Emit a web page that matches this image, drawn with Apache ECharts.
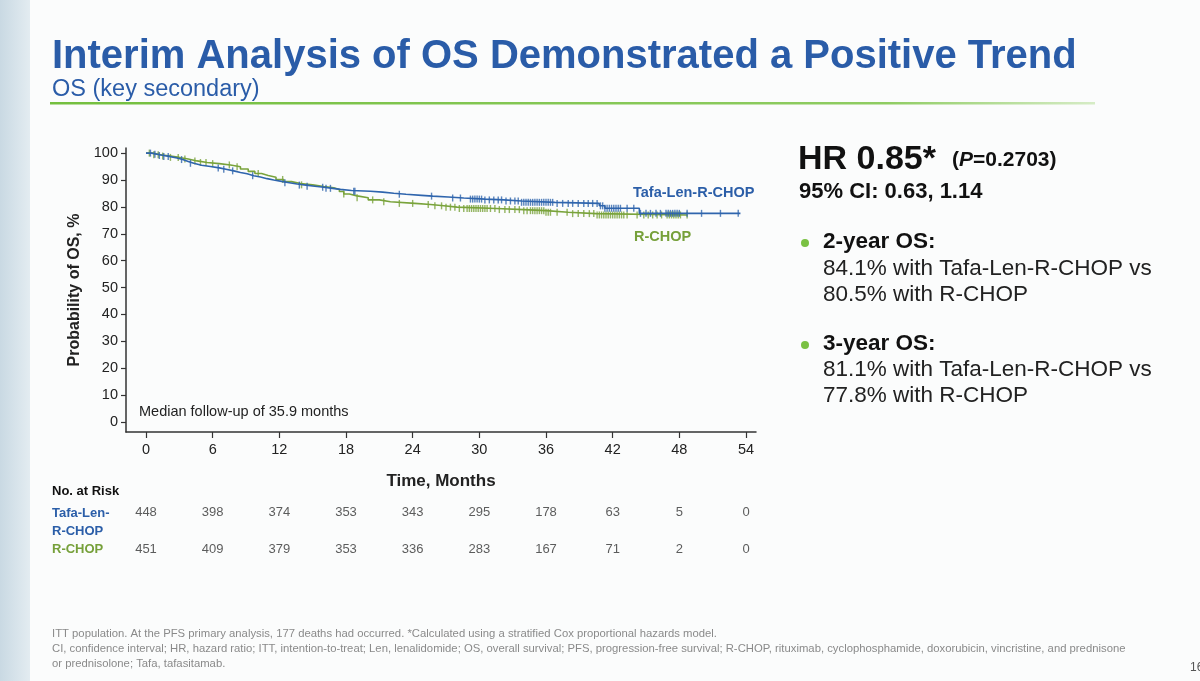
<!DOCTYPE html>
<html>
<head>
<meta charset="utf-8">
<script src="https://cdn.jsdelivr.net/npm/echarts@6/dist/echarts.min.js"></script>
<style>
  html, body { margin: 0; padding: 0; background: #fbfcfc; }
  #main { width: 1200px; height: 681px; }
</style>
</head>
<body>
<div id="main"></div>
<script>
// KM curves: [month, OS %]
var tafaCurve = [
  [0, 100], [0.5, 99.6], [1, 99.1], [1.6, 98.7], [2.2, 98.2], [2.8, 97.6], [3.3, 96.9],
  [3.8, 96.2], [4.3, 95.5], [5, 95], [5.8, 94.5], [6.6, 94], [7.2, 93.4], [7.9, 92.8],
  [8.5, 92.3], [9.1, 91.6], [9.7, 91.1], [10.3, 90.5], [10.9, 90], [11.5, 89.5],
  [12.2, 89], [12.9, 88.5], [13.6, 88.1], [14.4, 87.7], [15.2, 87.3], [16, 86.9],
  [16.8, 86.5], [17.5, 86.1], [18.5, 85.8], [20.2, 85.5], [21.3, 85.1], [22.3, 84.7],
  [23.4, 84.3], [24.8, 84.0], [25.8, 83.7], [27.2, 83.3], [28.6, 82.9], [30.5, 82.6],
  [32.2, 82.2], [33.8, 81.7], [36.8, 81.3], [40.8, 80.4], [41.3, 79.5], [44.4, 77.6],
  [53.5, 77.6]
];
var rchopCurve = [
  [0, 100], [0.6, 99.4], [1.3, 98.9], [2.2, 98.4], [3, 97.8], [3.8, 97.1], [4.6, 96.5],
  [5.5, 96.1], [6.6, 95.6], [7.6, 94.9], [8.5, 94.1], [9.2, 93.2], [9.8, 92.4],
  [10.4, 91.7], [11, 91], [11.7, 90.2], [12.4, 89.4], [13.1, 88.7], [13.9, 88.2],
  [15, 87.6], [16, 87.1], [16.9, 86.5], [17.4, 85.7], [17.8, 84.8], [18.3, 84.1],
  [19, 83.4], [20, 82.6], [21, 81.9], [22, 81.3], [24.2, 80.9], [25.6, 80.4],
  [26.8, 79.9], [28, 79.4], [31.5, 79.0], [34, 78.6], [36, 78.0], [38, 77.5],
  [40.5, 77.0], [48.7, 77.0]
];

// censoring times (months)
var tafaCensor = [
  0.4, 0.8, 1.2, 1.6, 2.0, 3.2, 4.0, 6.5, 7.0, 7.8, 9.6, 12.5, 13.8, 14.5, 15.9, 16.2,
  16.6, 18.7, 18.8, 22.8, 25.7, 27.6, 28.3,
  29.2, 29.4, 29.6, 29.8, 30.0, 30.2, 30.5, 30.9, 31.3, 31.7, 32.0, 32.4, 32.8, 33.2,
  33.5, 33.8, 34.0, 34.2, 34.4, 34.6, 34.8, 35.0, 35.2, 35.4, 35.6, 35.8, 36.0, 36.2,
  36.4, 36.6, 37.0, 37.5, 38.0, 38.4, 38.9, 39.4, 39.8, 40.2, 40.6,
  40.9, 41.1, 41.3, 41.5, 41.7, 41.9, 42.1, 42.3, 42.5, 42.7,
  43.3, 43.9, 44.5, 45.0, 45.4, 45.9, 46.3,
  46.8, 47.0, 47.2, 47.4, 47.6, 47.8, 48.0, 48.7, 50.0, 51.7, 53.3
];
var rchopCensor = [
  0.3, 0.7, 1.1, 1.5, 2.2, 2.9, 3.5, 4.4, 4.9, 5.4, 6.0, 7.5, 8.2, 10.1, 12.3, 14.0,
  17.8, 19.0, 20.4, 21.4, 22.8, 24.0, 25.4, 26.0, 26.6, 27.0, 27.4, 27.8, 28.2, 28.6,
  28.9, 29.1, 29.3, 29.5, 29.7, 29.9, 30.1, 30.3, 30.5, 30.7,
  31.0, 31.4, 31.8, 32.3, 32.7, 33.2, 33.6, 34.0, 34.3,
  34.6, 34.8, 35.0, 35.2, 35.4, 35.6, 35.8, 36.0, 36.2, 36.4,
  37.0, 37.9, 38.4, 38.9, 39.4, 39.9, 40.3,
  40.6, 40.8, 41.0, 41.2, 41.4, 41.6, 41.8, 42.0, 42.2, 42.4, 42.6, 42.8, 43.0,
  43.3, 44.2, 44.8, 45.2, 45.6, 46.0, 46.4,
  46.9, 47.1, 47.3, 47.5, 47.7, 47.9, 48.1, 48.7
];

// number at risk
var riskMonths = [0, 6, 12, 18, 24, 30, 36, 42, 48, 54];
var tafaRisk = [448, 398, 374, 353, 343, 295, 178, 63, 5, 0];
var rchopRisk = [451, 409, 379, 353, 336, 283, 167, 71, 2, 0];

var xTicks = [0, 6, 12, 18, 24, 30, 36, 42, 48, 54];
var yTicks = [0, 10, 20, 30, 40, 50, 60, 70, 80, 90, 100];

var BLUE = '#2f65ad';
var GREEN = '#79a33b';
var NARROW = "'Liberation Sans Narrow', 'Arial Narrow', 'Liberation Sans', sans-serif";
var SANS = "'Liberation Sans', Arial, sans-serif";

// survival value at time t from a step curve
function survAt(curve, t) {
  var v = curve[0][1];
  for (var i = 0; i < curve.length; i++) {
    if (curve[i][0] <= t) v = curve[i][1];
  }
  return v;
}
function censorPoints(curve, times) {
  return times.map(function (t) { return [t, survAt(curve, t)]; });
}
function riskPoints(row, counts) {
  return riskMonths.map(function (m, i) { return [m, row, counts[i]]; });
}

var myChart = echarts.init(document.getElementById('main'));

var axisText = { color: '#222', fontFamily: NARROW, fontSize: 14.5 };

option = {
  backgroundColor: '#fbfcfc',
  animation: false,
  grid: [
    { left: 126, top: 148, width: 630, height: 284 },
    { left: 126, top: 494, width: 630, height: 74 }
  ],
  xAxis: [{
    gridIndex: 0,
    type: 'value',
    min: -1.8,
    max: 54.9,
    name: 'Time, Months',
    nameLocation: 'middle',
    nameGap: 41,
    nameTextStyle: { color: '#222', fontFamily: NARROW, fontSize: 17, fontWeight: 'bold' },
    axisLine: { show: true, onZero: false, lineStyle: { color: '#333', width: 1.5 } },
    axisTick: { show: true, length: 6, customValues: xTicks, lineStyle: { color: '#333', width: 1.2 } },
    axisLabel: Object.assign({ customValues: xTicks, margin: 10 }, axisText),
    splitLine: { show: false }
  }, {
    gridIndex: 1,
    type: 'value',
    min: -1.8,
    max: 54.9,
    show: false
  }],
  yAxis: [{
    gridIndex: 0,
    type: 'value',
    min: -3.7,
    max: 101.9,
    name: 'Probability of OS, %',
    nameLocation: 'middle',
    nameRotate: 90,
    nameGap: 39,
    nameTextStyle: { color: '#222', fontFamily: NARROW, fontSize: 16, fontWeight: 'bold' },
    axisLine: { show: true, onZero: false, lineStyle: { color: '#333', width: 1.5 } },
    axisTick: { show: true, length: 5, customValues: yTicks, lineStyle: { color: '#333', width: 1.2 } },
    axisLabel: Object.assign({ customValues: yTicks, margin: 8 }, axisText),
    splitLine: { show: false }
  }, {
    gridIndex: 1,
    type: 'category',
    inverse: true,
    data: ['tafa', 'rchop'],
    show: false
  }],
  series: [{
    name: 'R-CHOP',
    type: 'line',
    step: 'end',
    showSymbol: false,
    data: rchopCurve,
    lineStyle: { color: GREEN, width: 1.6 },
    z: 2
  }, {
    name: 'Tafa-Len-R-CHOP',
    type: 'line',
    step: 'end',
    showSymbol: false,
    data: tafaCurve,
    lineStyle: { color: BLUE, width: 1.6 },
    z: 3
  }, {
    type: 'scatter',
    data: censorPoints(rchopCurve, rchopCensor),
    symbol: 'rect',
    symbolSize: [1.4, 7],
    itemStyle: { color: GREEN },
    z: 2
  }, {
    type: 'scatter',
    data: censorPoints(tafaCurve, tafaCensor),
    symbol: 'rect',
    symbolSize: [1.4, 7],
    itemStyle: { color: BLUE },
    z: 3
  }, {
    type: 'scatter',
    xAxisIndex: 1,
    yAxisIndex: 1,
    data: riskPoints('tafa', tafaRisk),
    symbolSize: 1,
    itemStyle: { color: 'rgba(0,0,0,0)' },
    label: {
      show: true, position: 'inside', color: '#333', fontFamily: SANS, fontSize: 13,
      formatter: function (p) { return p.value[2]; }
    }
  }, {
    type: 'scatter',
    xAxisIndex: 1,
    yAxisIndex: 1,
    data: riskPoints('rchop', rchopRisk),
    symbolSize: 1,
    itemStyle: { color: 'rgba(0,0,0,0)' },
    label: {
      show: true, position: 'inside', color: '#333', fontFamily: SANS, fontSize: 13,
      formatter: function (p) { return p.value[2]; }
    }
  }],
  graphic: [
    // left slide strip
    {
      type: 'rect', left: 0, top: 0, z: -10,
      shape: { width: 30, height: 681 },
      style: {
        fill: new echarts.graphic.LinearGradient(0, 0, 1, 0, [
          { offset: 0, color: '#c9d9e3' }, { offset: 1, color: '#e3ecf1' }
        ])
      }
    },
    {
      type: 'text', left: 52, top: 37,
      style: { text: 'Interim Analysis of OS Demonstrated a Positive Trend', fill: '#2a5ca8',
        font: 'bold 40px ' + SANS }
    },
    {
      type: 'text', left: 52, top: 78,
      style: { text: 'OS (key secondary)', fill: '#2a5ca8', font: '23.5px ' + SANS }
    },
    {
      type: 'rect', left: 50, top: 102,
      shape: { width: 1045, height: 2.5 },
      style: {
        fill: new echarts.graphic.LinearGradient(0, 0, 1, 0, [
          { offset: 0, color: '#74bf3f' }, { offset: 0.8, color: '#8fcc62' }, { offset: 1, color: '#d6ecc6' }
        ])
      }
    },
    {
      type: 'text', left: 139, top: 404,
      style: { text: 'Median follow-up of 35.9 months', fill: '#222', font: '14.5px ' + NARROW }
    },
    {
      type: 'text', left: 633, top: 185,
      style: { text: 'Tafa-Len-R-CHOP', fill: '#2b5ea8', font: 'bold 14.5px ' + SANS }
    },
    {
      type: 'text', left: 634, top: 229,
      style: { text: 'R-CHOP', fill: '#76a03a', font: 'bold 14.5px ' + SANS }
    },
    // right panel
    {
      type: 'text', left: 798, top: 143,
      style: { text: 'HR 0.85*', fill: '#111', font: 'bold 34px ' + SANS }
    },
    {
      type: 'text', left: 952, top: 150,
      style: {
        text: '{a|(}{i|P}{a|=0.2703)}',
        rich: {
          a: { fill: '#111', font: 'bold 21px ' + SANS },
          i: { fill: '#111', font: 'italic bold 21px ' + SANS }
        }
      }
    },
    {
      type: 'text', left: 799, top: 181,
      style: { text: '95% CI: 0.63, 1.14', fill: '#111', font: 'bold 22px ' + SANS }
    },
    { type: 'circle', shape: { cx: 805, cy: 243, r: 4 }, style: { fill: '#7ac143' } },
    {
      type: 'text', left: 823, top: 230,
      style: { text: '2-year OS:', fill: '#111', font: 'bold 22.5px ' + SANS }
    },
    {
      type: 'text', left: 823, top: 257,
      style: { text: '84.1% with Tafa-Len-R-CHOP vs', fill: '#222', font: '22.5px ' + SANS }
    },
    {
      type: 'text', left: 823, top: 283,
      style: { text: '80.5% with R-CHOP', fill: '#222', font: '22.5px ' + SANS }
    },
    { type: 'circle', shape: { cx: 805, cy: 345, r: 4 }, style: { fill: '#7ac143' } },
    {
      type: 'text', left: 823, top: 332,
      style: { text: '3-year OS:', fill: '#111', font: 'bold 22.5px ' + SANS }
    },
    {
      type: 'text', left: 823, top: 358,
      style: { text: '81.1% with Tafa-Len-R-CHOP vs', fill: '#222', font: '22.5px ' + SANS }
    },
    {
      type: 'text', left: 823, top: 384,
      style: { text: '77.8% with R-CHOP', fill: '#222', font: '22.5px ' + SANS }
    },
    // risk table labels
    {
      type: 'text', left: 52, top: 485,
      style: { text: 'No. at Risk', fill: '#111', font: 'bold 13px ' + SANS }
    },
    {
      type: 'text', left: 52, top: 504,
      style: { text: 'Tafa-Len-\nR-CHOP', fill: '#2b5ea8', font: 'bold 13px ' + SANS, lineHeight: 18 }
    },
    {
      type: 'text', left: 52, top: 543,
      style: { text: 'R-CHOP', fill: '#76a03a', font: 'bold 13px ' + SANS }
    },
    // footnotes
    {
      type: 'text', left: 52, top: 626,
      style: {
        text: 'ITT population. At the PFS primary analysis, 177 deaths had occurred. *Calculated using a stratified Cox proportional hazards model.\n' +
          'CI, confidence interval; HR, hazard ratio; ITT, intention-to-treat; Len, lenalidomide; OS, overall survival; PFS, progression-free survival; R-CHOP, rituximab, cyclophosphamide, doxorubicin, vincristine, and prednisone\n' +
          'or prednisolone; Tafa, tafasitamab.',
        fill: '#8a8a8a', font: '11.3px ' + SANS, lineHeight: 15
      }
    },
    {
      type: 'text', left: 1190, top: 662,
      style: { text: '16', fill: '#555', font: '12px ' + SANS }
    }
  ]
};

myChart.setOption(option);

window.onresize = function () {
  myChart.resize();
};
</script>
</body>
</html>
